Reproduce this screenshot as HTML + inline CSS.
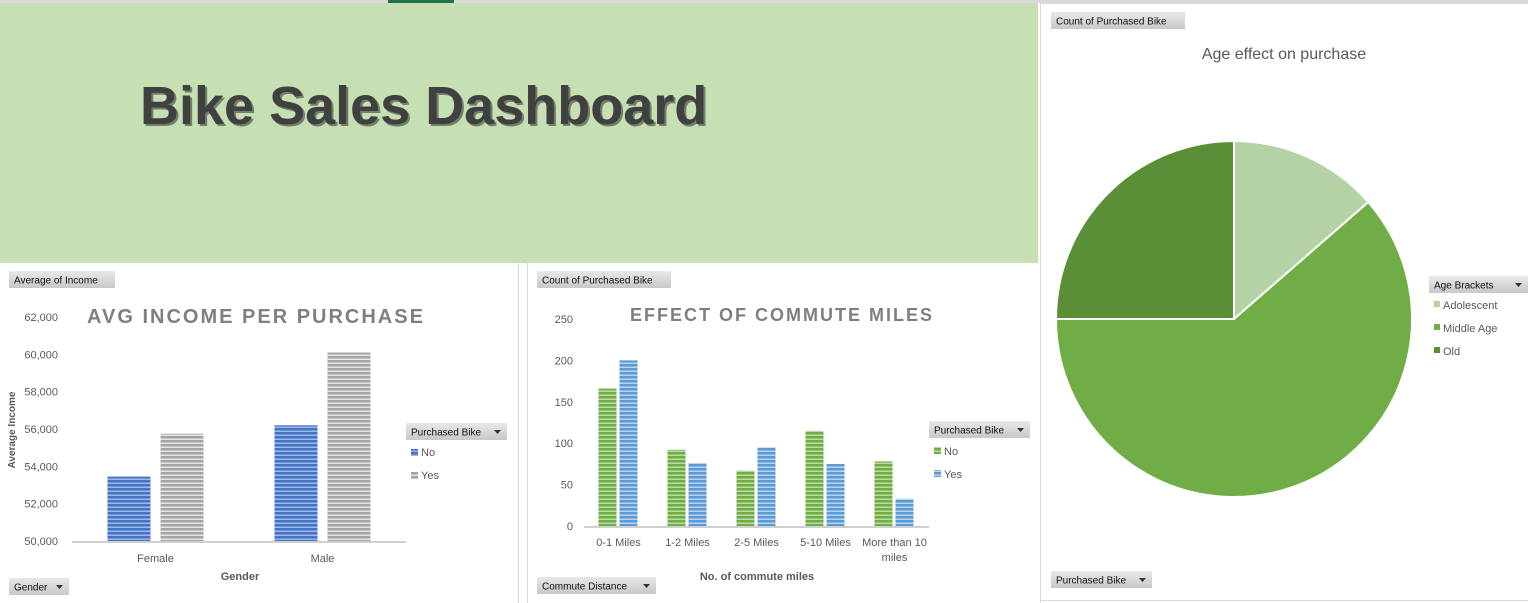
<!DOCTYPE html>
<html><head><meta charset="utf-8"><style>
html,body{margin:0;padding:0;background:#fff;}
svg{display:block;font-family:"Liberation Sans",sans-serif;}
</style></head><body>
<svg id="s" width="1528" height="603" viewBox="0 0 1528 603" xmlns="http://www.w3.org/2000/svg">
<defs>
<pattern id="pBlue" width="4" height="4" patternUnits="userSpaceOnUse"><rect width="4" height="4" fill="#9db8e6"/><rect width="4" height="2.5" fill="#4472c4"/></pattern>
<pattern id="pGrey" width="4" height="4" patternUnits="userSpaceOnUse"><rect width="4" height="4" fill="#e4e4e4"/><rect width="4" height="2.5" fill="#a5a5a5"/></pattern>
<pattern id="pGreen" width="4" height="4" patternUnits="userSpaceOnUse"><rect width="4" height="4" fill="#b8dca0"/><rect width="4" height="2.5" fill="#70ad47"/></pattern>
<pattern id="pLBlue" width="4" height="4" patternUnits="userSpaceOnUse"><rect width="4" height="4" fill="#b9d3ef"/><rect width="4" height="2.5" fill="#5b9bd5"/></pattern>
<linearGradient id="gBtn" x1="0" y1="0" x2="0" y2="1"><stop offset="0" stop-color="#e8e8e8"/><stop offset="1" stop-color="#c8c8c8"/></linearGradient>
</defs>
<rect x="0" y="0" width="1528" height="3" fill="#d9d9d9"/>
<rect x="388" y="0" width="66" height="3" fill="#217346"/>
<rect x="0" y="3" width="1038" height="260" fill="#c6e0b4"/>
<text x="142" y="126" font-size="54" font-weight="bold" fill="#222" opacity="0.5">Bike Sales Dashboard</text>
<text x="140" y="124" font-size="54" font-weight="bold" fill="#404040">Bike Sales Dashboard</text>
<line x1="518.5" y1="263" x2="518.5" y2="603" stroke="#d9d9d9"/>
<line x1="527.5" y1="263" x2="527.5" y2="603" stroke="#d9d9d9"/>
<line x1="1040.5" y1="3" x2="1040.5" y2="603" stroke="#d9d9d9"/>
<line x1="1040" y1="600.5" x2="1528" y2="600.5" stroke="#d9d9d9"/>
<line x1="1040" y1="3.5" x2="1528" y2="3.5" stroke="#d9d9d9"/>
<g id="c1"></g><g id="c2"></g><g id="c3"></g>
</svg>
<script>
const NS="http://www.w3.org/2000/svg";
function mk(p,tag,a,txt){const e=document.createElementNS(NS,tag);for(const k in a)e.setAttribute(k,a[k]);if(txt!==undefined)e.textContent=txt;p.appendChild(e);return e;}
function btn(p,x,y,w,label,arrow,name){const g=mk(p,'g',{});


mk(g,'rect',{x:x,y:y,width:w,height:17,fill:'url(#gBtn)'});mk(g,'text',{x:x+5,y:y+12.5,'font-size':10,fill:'#111'},label);if(arrow)mk(g,'path',{d:`M${x+w-13} ${y+7}h7l-3.5 4z`,fill:'#333'});}

// Chart 1
const genders=["Female","Male"];
const incomeNo=[53450,56200];
const incomeYes=[55750,60100];
const incTicks=[50000,52000,54000,56000,58000,60000,62000];
// Chart 2
const commuteCats=["0-1 Miles","1-2 Miles","2-5 Miles","5-10 Miles","More than 10|miles"];
const commuteNo=[166,92,67,115,78];
const commuteYes=[200,76,95,75,33];
const cntTicks=[0,50,100,150,200,250];
// Chart 3
const ageCats=["Adolescent","Middle Age","Old"];
const ageCounts=[136,614,250];

// ---- chart 1
{const g=document.getElementById('c1');
btn(g,9,271,106,'Average of Income',false,'value-field-button');
btn(g,9,578,60,'Gender',true,'gender-filter-button');
const y0=541,y1=317,mn=50000,mx=62000;const Y=v=>y0-(v-mn)/(mx-mn)*(y0-y1);
const x0=72,x1=406,cw=(x1-x0)/genders.length;
mk(g,'text',{x:256,y:323,'font-size':20,'font-weight':'bold',fill:'#7f7f7f','text-anchor':'middle','letter-spacing':'2'},'AVG INCOME PER PURCHASE');
incTicks.forEach(t=>{const e=mk(g,'text',{x:58,y:Y(t)+4,'font-size':11,fill:'#595959','text-anchor':'end'},t.toLocaleString('en-US'));

});
genders.forEach((c,i)=>{const cx=x0+cw*(i+0.5);
const b1=mk(g,'rect',{x:cx-48,y:Y(incomeNo[i]),width:43,height:y0-Y(incomeNo[i]),fill:'url(#pBlue)'});


const b2=mk(g,'rect',{x:cx+5,y:Y(incomeYes[i]),width:43,height:y0-Y(incomeYes[i]),fill:'url(#pGrey)'});


const t=mk(g,'text',{x:cx,y:562,'font-size':11,fill:'#595959','text-anchor':'middle'},c);

});
mk(g,'line',{x1:x0,y1:y0+1,x2:x1,y2:y0+1,stroke:'#bfbfbf','stroke-width':1.5});
mk(g,'text',{x:240,y:580,'font-size':11,'font-weight':'bold',fill:'#595959','text-anchor':'middle'},'Gender');
mk(g,'text',{x:15,y:430,'font-size':10,'font-weight':'bold',fill:'#595959','text-anchor':'middle',transform:'rotate(-90 15 430)'},'Average Income');
btn(g,406,423,101,'Purchased Bike',true,'legend-filter-button');
mk(g,'rect',{x:411,y:449,width:7,height:7,fill:'url(#pBlue)'});mk(g,'text',{x:421,y:456,'font-size':11,fill:'#595959'},'No');
mk(g,'rect',{x:411,y:472,width:7,height:7,fill:'url(#pGrey)'});mk(g,'text',{x:421,y:479,'font-size':11,fill:'#595959'},'Yes');}

// ---- chart 2
{const g=document.getElementById('c2');
btn(g,537,271,134,'Count of Purchased Bike',false,'value-field-button-2');
btn(g,537,577,119,'Commute Distance',true,'commute-filter-button');
const y0=526,y1=319,mx=250;const Y=v=>y0-v/mx*(y0-y1);
const x0=584,x1=929,cw=(x1-x0)/commuteCats.length;
mk(g,'text',{x:782,y:321,'font-size':18,'font-weight':'bold',fill:'#7f7f7f','text-anchor':'middle','letter-spacing':'2'},'EFFECT OF COMMUTE MILES');
cntTicks.forEach(t=>{const e=mk(g,'text',{x:573,y:Y(t)+4,'font-size':11,fill:'#595959','text-anchor':'end'},String(t));

});
commuteCats.forEach((c,i)=>{const cx=x0+cw*(i+0.5);
const b1=mk(g,'rect',{x:cx-20,y:Y(commuteNo[i]),width:18,height:y0-Y(commuteNo[i]),fill:'url(#pGreen)'});


const b2=mk(g,'rect',{x:cx+1,y:Y(commuteYes[i]),width:18,height:y0-Y(commuteYes[i]),fill:'url(#pLBlue)'});


c.split('|').forEach((l,j)=>{const t=mk(g,'text',{x:cx,y:546+j*15,'font-size':11,fill:'#595959','text-anchor':'middle'},l);

});});
mk(g,'line',{x1:x0,y1:y0+1,x2:x1,y2:y0+1,stroke:'#bfbfbf','stroke-width':1.5});
mk(g,'text',{x:757,y:580,'font-size':11,'font-weight':'bold',fill:'#595959','text-anchor':'middle'},'No. of commute miles');
btn(g,929,421,101,'Purchased Bike',true,'legend-filter-button-2');
mk(g,'rect',{x:934,y:447,width:7,height:7,fill:'url(#pGreen)'});mk(g,'text',{x:944,y:455,'font-size':11,fill:'#595959'},'No');
mk(g,'rect',{x:934,y:470,width:7,height:7,fill:'url(#pLBlue)'});mk(g,'text',{x:944,y:478,'font-size':11,fill:'#595959'},'Yes');}

// ---- chart 3
{const g=document.getElementById('c3');
btn(g,1051,12,134,'Count of Purchased Bike',false,'value-field-button-3');
btn(g,1051,571,101,'Purchased Bike',true,'purchased-filter-button');
mk(g,'text',{x:1284,y:59,'font-size':16,fill:'#595959','text-anchor':'middle'},'Age effect on purchase');
const cx=1234,cy=319,r=178,cols=['#b5d2a6','#70ad47','#5a8f37'];
const tot=ageCounts.reduce((a,b)=>a+b,0);let a=0;
ageCats.forEach((c,i)=>{const a2=a+ageCounts[i]/tot*Math.PI*2;
const p=(t)=>[cx+r*Math.sin(t),cy-r*Math.cos(t)];const [sx,sy]=p(a),[ex,ey]=p(a2);
const s=mk(g,'path',{d:`M${cx} ${cy}L${sx} ${sy}A${r} ${r} 0 ${a2-a>Math.PI?1:0} 1 ${ex} ${ey}Z`,fill:cols[i],stroke:'#fff','stroke-width':2});


a=a2;
mk(g,'rect',{x:1434,y:301+i*23,width:6,height:6,fill:cols[i]});
const t=mk(g,'text',{x:1443,y:309+i*23,'font-size':11,fill:'#595959'},c);

});
btn(g,1429,276,99,'Age Brackets',true,'age-legend-filter-button');}
</script>
</body></html>
